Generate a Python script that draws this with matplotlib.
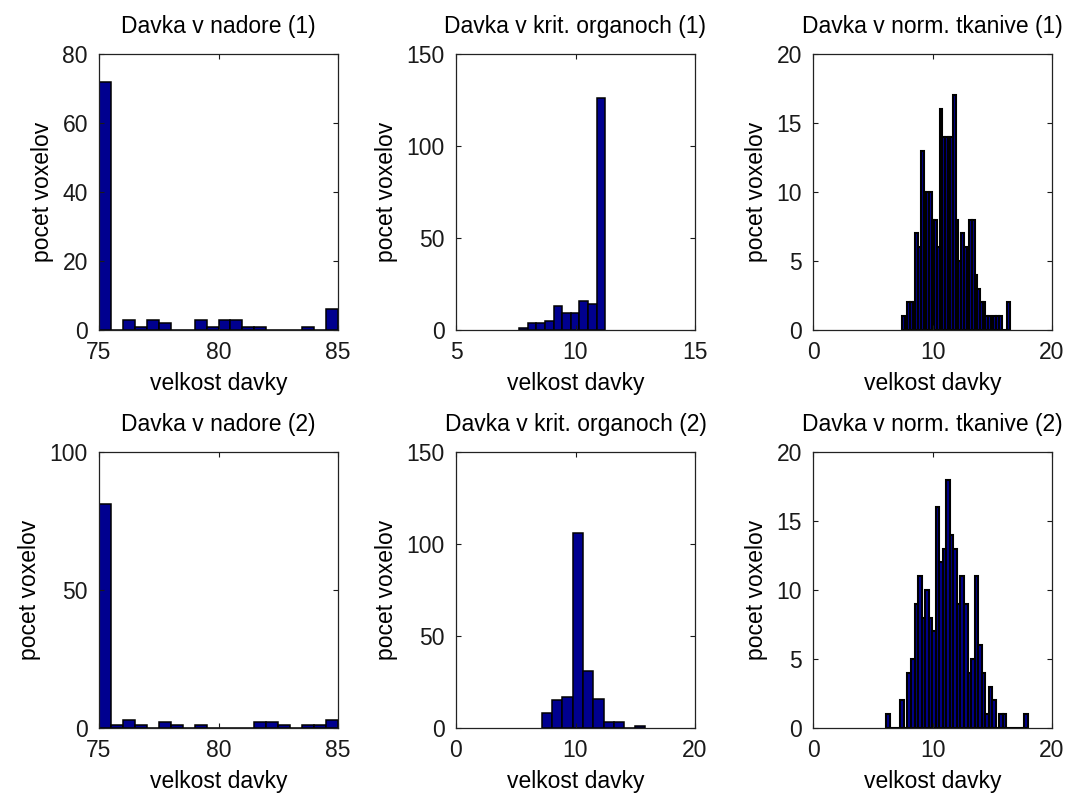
import numpy as np
import matplotlib
matplotlib.use("Agg")
import matplotlib.pyplot as plt

plt.rcParams['font.family'] = ['Liberation Sans', 'DejaVu Sans']

# counts per histogram bin
tumor1_counts = [72, 0, 3, 1, 3, 2, 0, 0, 3, 1, 3, 3, 1, 1, 0, 0, 0, 1, 0, 6]
tumor1_range = (75.0, 85.0)
organ1_counts = [1, 4, 4, 5, 13, 9, 9, 16, 14, 126]
organ1_range = (7.65, 11.24)
tissue1_counts = [1, 0, 2, 2, 2, 7, 6, 13, 10, 10, 10, 8, 8, 6, 16, 14, 14, 14, 14, 17,
                  8, 5, 7, 6, 4, 8, 8, 4, 3, 2, 2, 1, 1, 0, 1, 1, 1, 0, 0, 2]
tissue1_range = (7.45, 16.45)

tumor2_counts = [81, 1, 3, 1, 0, 2, 1, 0, 1, 0, 0, 0, 0, 2, 2, 1, 0, 1, 1, 3]
tumor2_range = (75.0, 85.0)
organ2_counts = [8, 15, 17, 106, 31, 16, 3, 3, 0, 1]
organ2_range = (7.17, 15.83)
tissue2_counts = [1, 0, 0, 0, 2, 0, 4, 5, 9, 11, 8, 10, 8, 7, 16, 12, 13, 18, 14, 13,
                  9, 11, 9, 4, 5, 11, 6, 4, 1, 3, 2, 0, 1, 1, 0, 0, 0, 0, 0, 1]
tissue2_range = (6.13, 17.96)

titles = ["Davka v nadore (1)", "Davka v krit. organoch (1)", "Davka v norm. tkanive (1)",
          "Davka v nadore (2)", "Davka v krit. organoch (2)", "Davka v norm. tkanive (2)"]
xticks = [[75, 80, 85], [5, 10, 15], [0, 10, 20],
          [75, 80, 85], [0, 10, 20], [0, 10, 20]]
yticks = [[0, 20, 40, 60, 80], [0, 50, 100, 150], [0, 5, 10, 15, 20],
          [0, 50, 100], [0, 50, 100, 150], [0, 5, 10, 15, 20]]

FS = 16.5


def draw_hist(ax, counts, rng, title, xt, yt):
    edges = np.linspace(rng[0], rng[1], len(counts) + 1)
    # narrow bins: the black edges swallow most of the fill, like in the original
    lw = 1.5 if len(counts) > 20 else 1.1
    ax.bar(edges[:-1], counts, width=np.diff(edges), align='edge',
           color='#00008f', edgecolor='black', linewidth=lw)
    ax.set_xlim(xt[0], xt[-1])
    ax.set_ylim(yt[0], yt[-1])
    ax.set_xticks(xt)
    ax.set_yticks(yt)
    ax.tick_params(direction='in', top=True, right=True, length=3.5,
                   width=0.8, labelsize=FS, pad=8, colors='#1a1a1a')
    for s in ax.spines.values():
        s.set_linewidth(0.9)
        s.set_color('#222222')
    ax.set_title(title, fontsize=FS, pad=15)
    ax.set_xlabel("velkost davky", fontsize=FS, labelpad=6)
    ax.set_ylabel("pocet voxelov", fontsize=FS, labelpad=6)


fig = plt.figure(figsize=(10.8, 8.01), dpi=100)
lefts = [99 / 1080, 456 / 1080, 813 / 1080]
bottoms = [1 - 330 / 801, 1 - 728 / 801]
w, h = 239 / 1080, 276 / 801

data = [(tumor1_counts, tumor1_range), (organ1_counts, organ1_range), (tissue1_counts, tissue1_range),
        (tumor2_counts, tumor2_range), (organ2_counts, organ2_range), (tissue2_counts, tissue2_range)]

for i, (counts, rng) in enumerate(data):
    ax = fig.add_axes([lefts[i % 3], bottoms[i // 3], w, h])
    draw_hist(ax, counts, rng, titles[i], xticks[i], yticks[i])

fig.savefig("out.png", dpi=100)
plt.close(fig)
